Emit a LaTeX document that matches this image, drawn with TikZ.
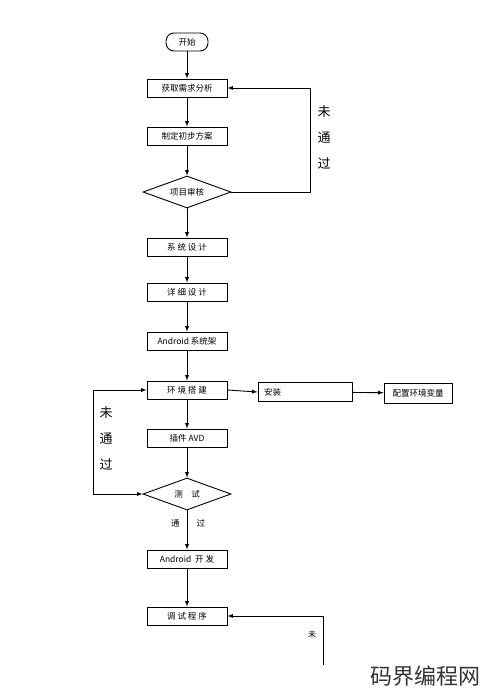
\documentclass[tikz,border=0pt]{standalone}
\usepackage{fontspec}
\setmainfont{Noto Sans CJK SC}
\usepackage{tikz}
\usetikzlibrary{arrows,positioning,shapes.geometric}
\tikzset{
  procbox/.style={draw,line width=0.9pt,rectangle,minimum width=80pt,minimum height=18pt,inner sep=0pt,font=\fontsize{8.5}{10}\selectfont},
  startbox/.style={draw,line width=0.9pt,rectangle,rounded corners=8pt,minimum width=42pt,minimum height=18pt,inner sep=0pt,font=\fontsize{8.5}{10}\selectfont},
  checkbox/.style={draw,line width=0.9pt,diamond,aspect=2.75,minimum width=88pt,minimum height=32pt,inner sep=0pt,font=\fontsize{8.5}{10}\selectfont},
  biglabel/.style={font=\fontsize{13}{26}\selectfont,align=center},
  flow/.style={->,>=latex,line width=0.9pt}
}
\begin{document}
\begin{tikzpicture}[x=1pt,y=-1pt]
\useasboundingbox (0,0) rectangle (490,698);
%%the main column
\node[startbox] (start) at (187,42) {开始};
\node[procbox] (req) at (187,88) {获取需求分析};
\node[procbox] (plan) at (187,136) {制定初步方案};
\node[checkbox] (audit) at (187,192) {项目审核};
\node[procbox] (sys) at (187,247) {系\ 统\ 设\ 计};
\node[procbox] (detail) at (187,292) {详\ 细\ 设\ 计};
\node[procbox] (arch) at (187,341) {Android 系统架};
\node[procbox] (env) at (187,390) {环\ 境\ 搭\ 建};
\node[procbox] (avd) at (187,438) {插件 AVD};
\node[checkbox] (test) at (187,494) {测\quad 试};
\node[procbox] (dev) at (187,559) {Android\ \ 开\ 发};
\node[procbox] (debug) at (187,616) {调\ 试\ 程\ 序};
%%the branch to the right
\node[procbox,minimum width=94pt,minimum height=19pt,text width=82pt,inner xsep=6pt,align=left] (install) at (305,392) {安装};
\node[procbox,minimum width=68pt,minimum height=20pt] (config) at (418,393) {配置环境变量};
%%corners of the loops
\coordinate (r1) at (310,192);
\coordinate (l1) at (93,494);
\coordinate (b1) at (323,665);
\draw[flow] (start) -- (req);
\draw[flow] (req) -- (plan);
\draw[flow] (plan) -- (audit);
\draw[flow] (audit) -- (sys);
\draw[flow] (sys) -- (detail);
\draw[flow] (detail) -- (arch);
\draw[flow] (arch) -- (env);
\draw[flow] (env) -- (avd);
\draw[flow] (avd) -- (test);
\draw[flow] (test) -- (dev);
\draw[flow] (dev) -- (debug);
\draw[flow] (env.east) -- (install.west);
\draw[flow] (install) -- (config);
\draw[flow] (audit.east) -- (r1) |- (req.east);
\draw[flow,<->] (test.west) -- (l1) |- (env.west);
\draw[flow] (b1) |- (debug.east);
%%finally the text
\node[biglabel] (no1) at (324,137) {未\\通\\过};
\node[biglabel] (no2) at (106,438) {未\\通\\过};
\node[font=\fontsize{8.5}{10}\selectfont] (pass) at (188,523) {通\qquad 过};
\node[font=\fontsize{8}{9}\selectfont] (no3) at (312,634) {未};
\node[font=\fontsize{22}{24}\selectfont,text=black!80] (mark) at (425,676) {码界编程网};
\end{tikzpicture}
\end{document}
